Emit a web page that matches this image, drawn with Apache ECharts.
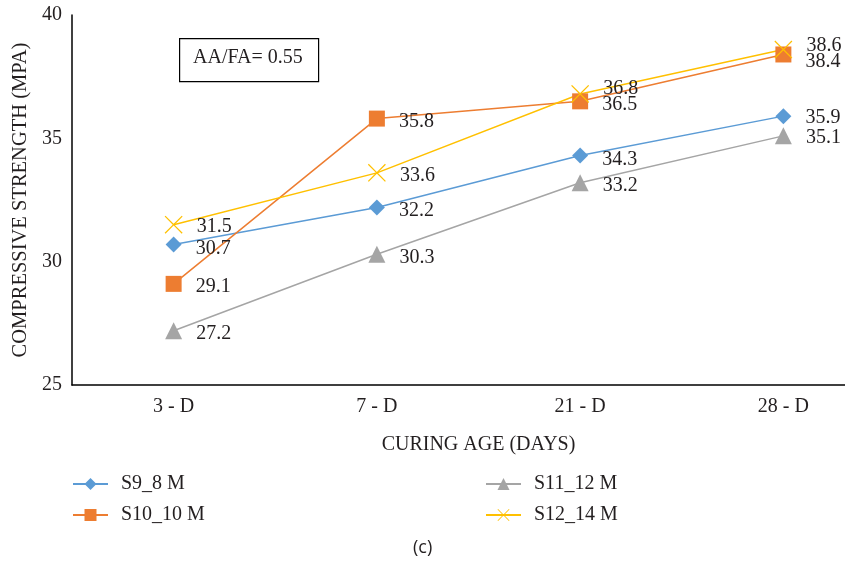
<!DOCTYPE html>
<html><head><meta charset="utf-8">
<script src="https://cdn.jsdelivr.net/npm/echarts@6/dist/echarts.min.js"></script>
<style>html,body{margin:0;padding:0;background:#fff}#c{width:845px;height:561px}</style>
</head><body><div id="c"></div>
<script>
const categories = ['3 - D', '7 - D', '21 - D', '28 - D'];
const seriesNames = ['S9_8 M', 'S10_10 M', 'S11_12 M', 'S12_14 M'];
const s9 = [30.7, 32.2, 34.3, 35.9];
const s10 = [29.1, 35.8, 36.5, 38.4];
const s11 = [27.2, 30.3, 33.2, 35.1];
const s12 = [31.5, 33.6, 36.8, 38.6];
const yTicks = [25, 30, 35, 40];

const FONT = '"Liberation Serif", "DejaVu Serif", serif';
const TXT = '#231f20';
const crossPath = 'path://M0,1L1,0L10,9L19,0L20,1L11,10L20,19L19,20L10,11L1,20L0,19L9,10Z';

// per-point label offsets (style only)
const labelOffsets = {
  'S9_8 M': [[0,4],[0,3],[0,4],[0,2]],
  'S10_10 M': [[0,3],[0,3],[0,3],[0,7]],
  'S11_12 M': [[0,3],[0,3],[0,3],[0,2]],
  'S12_14 M': [[0,2],[0,3],[0,-5],[0,-4]]
};

function mk(name, vals, color, symbol, size) {
  return {
    name: name, type: 'line', data: vals.map((v, i) => ({
      value: v,
      label: { offset: labelOffsets[name][i] }
    })),
    symbol: symbol, symbolSize: size,
    lineStyle: { color: color, width: 1.5 },
    itemStyle: { color: color },
    label: {
      show: true, position: 'right', distance: 14,
      fontFamily: FONT, fontSize: 20, color: TXT
    },
    emphasis: { disabled: true },
    animation: false
  };
}

const legendText = { fontFamily: FONT, fontSize: 20, color: TXT, padding: [0, 0, 0, 8] };

const chart = echarts.init(document.getElementById('c'), null, { renderer: 'canvas' });
chart.setOption({
  backgroundColor: '#fff',
  animation: false,
  grid: { left: 72, right: -40, top: 15, bottom: 176, containLabel: false, outerBoundsMode: 'none' },
  xAxis: {
    type: 'category', data: categories, boundaryGap: true,
    axisLine: { lineStyle: { color: '#000', width: 1.5 } },
    axisTick: { show: false },
    axisLabel: { fontFamily: FONT, fontSize: 20, color: TXT, margin: 12 },
    name: 'CURING AGE (DAYS)', nameLocation: 'middle', nameGap: 50,
    nameTextStyle: { fontFamily: FONT, fontSize: 20, color: TXT }
  },
  yAxis: {
    type: 'value', min: yTicks[0], max: yTicks[yTicks.length - 1], interval: 5,
    axisLine: { show: true, lineStyle: { color: '#000', width: 1.5 } },
    axisTick: { show: false },
    splitLine: { show: false },
    axisLabel: { fontFamily: FONT, fontSize: 20, color: TXT, margin: 10 },
    name: 'COMPRESSIVE STRENGTH (MPA)', nameLocation: 'middle', nameGap: 41,
    nameRotate: 90,
    nameTextStyle: { fontFamily: FONT, fontSize: 20.5, color: TXT }
  },
  legend: [
    { data: [seriesNames[0], seriesNames[1]], orient: 'vertical', left: 72, top: 474, padding: 0,
      itemWidth: 35, itemHeight: 15, itemGap: 11, textStyle: legendText },
    { data: [seriesNames[2], seriesNames[3]], orient: 'vertical', left: 485, top: 474, padding: 0,
      itemWidth: 35, itemHeight: 15, itemGap: 11, textStyle: legendText }
  ],
  graphic: [
    { type: 'rect', left: 179, top: 38, shape: { width: 139, height: 43 },
      style: { fill: '#fff', stroke: '#000', lineWidth: 1.2 } },
    { type: 'text', left: 193, top: 48, style: { text: 'AA/FA= 0.55', font: '20px ' + FONT, fill: TXT } },
    { type: 'text', left: 413, top: 539, style: { text: '(c)', font: '18px "Open Sans", sans-serif', fill: TXT } }
  ],
  series: [
    mk(seriesNames[0], s9, '#5B9BD5', 'diamond', 16),
    mk(seriesNames[1], s10, '#ED7D31', 'rect', 16),
    mk(seriesNames[2], s11, '#A5A5A5', 'triangle', 17),
    mk(seriesNames[3], s12, '#FFC000', crossPath, 18)
  ]
});
</script></body></html>
